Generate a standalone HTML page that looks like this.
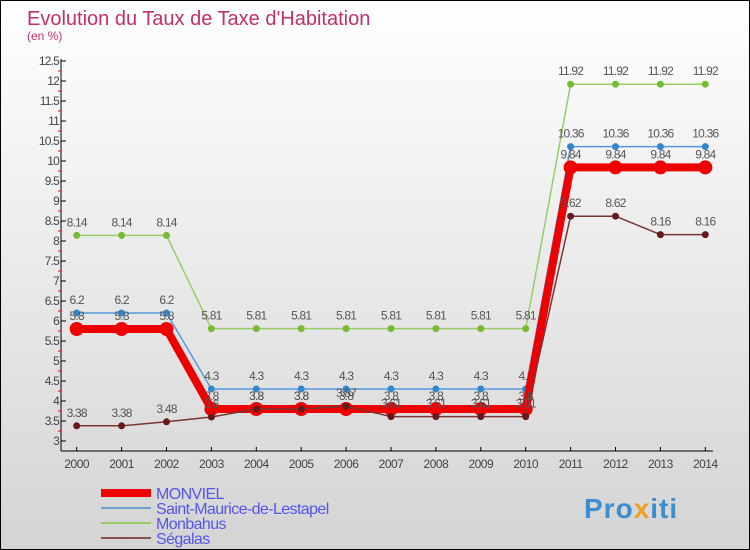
<!DOCTYPE html>
<html><head><meta charset="utf-8"><style>
body{margin:0}
#c{position:relative;width:748px;height:548px;border:1px solid #000;background:linear-gradient(#fff,#d4d4d4);font-family:"Liberation Sans",sans-serif;overflow:hidden}
</style></head><body>
<div id="c">
<svg id="s" width="748" height="548">
<text x="26" y="24" font-size="20" fill="#c0306a">Evolution du Taux de Taxe d'Habitation</text>
<text x="26" y="39" font-size="12" fill="#c0306a">(en %)</text>
<g id="axes"></g><g id="series"></g><g id="legend"></g>
<g>
<text x="583" y="517" font-size="28" font-weight="bold" fill="#3a8fd0" letter-spacing="1">Pro<tspan fill="#f0a020">x</tspan>iti</text>
</g>
</svg>
</div>
<script>
const years=[2000,2001,2002,2003,2004,2005,2006,2007,2008,2009,2010,2011,2012,2013,2014];
const monviel=[5.8,5.8,5.8,3.8,3.8,3.8,3.8,3.8,3.8,3.8,3.8,9.84,9.84,9.84,9.84];
const saintMaurice=[6.2,6.2,6.2,4.3,4.3,4.3,4.3,4.3,4.3,4.3,4.3,10.36,10.36,10.36,10.36];
const monbahus=[8.14,8.14,8.14,5.81,5.81,5.81,5.81,5.81,5.81,5.81,5.81,11.92,11.92,11.92,11.92];
const segalas=[3.38,3.38,3.48,3.6,3.8,3.8,3.87,3.61,3.61,3.61,3.61,8.62,8.62,8.16,8.16];
const yTicks=[3,3.5,4,4.5,5,5.5,6,6.5,7,7.5,8,8.5,9,9.5,10,10.5,11,11.5,12,12.5];
const NS='http://www.w3.org/2000/svg';
const X=i=>75.7+i*44.9;
const Y=v=>440-(v-3)*40;
function mk(tag,at,parent){const e=document.createElementNS(NS,tag);for(const k in at)e.setAttribute(k,at[k]);parent.appendChild(e);return e;}
const ax=document.getElementById('axes');
let l=mk('line',{x1:60,y1:58,x2:60,y2:450,stroke:'#000'},ax);


l=mk('line',{x1:60,y1:450,x2:712,y2:450,stroke:'#000'},ax);


yTicks.forEach(v=>{
  mk('line',{x1:60,y1:Y(v),x2:65,y2:Y(v),stroke:'#000'},ax);
  if(v<12.5)mk('line',{x1:57,y1:Y(v+0.25),x2:60,y2:Y(v+0.25),stroke:'#e00'},ax);
  const t=mk('text',{x:58,y:Y(v)+4,'font-size':12,fill:'#444','text-anchor':'end','letter-spacing':'-0.8'},ax);
  t.textContent=String(v);
  
  
});
years.forEach((y,i)=>{
  mk('line',{x1:X(i),y1:446,x2:X(i),y2:450,stroke:'#000'},ax);
  const t=mk('text',{x:X(i),y:467,'font-size':12,fill:'#444','text-anchor':'middle','letter-spacing':'-0.5'},ax);
  t.textContent=String(y);
  
  
});
const sg=document.getElementById('series');
const defs=[
 {d:monbahus,c:'#99cc66',w:1.5,r:3.5,f:'#77bb33',n:'monbahus'},
 {d:saintMaurice,c:'#5599dd',w:1.5,r:3.5,f:'#3388cc',n:'saint-maurice'},
 {d:monviel,c:'#ee0000',w:8,r:7,f:'#ee0000',n:'monviel'},
 {d:segalas,c:'#7a3535',w:1.5,r:3.5,f:'#661a1a',n:'segalas'}];
defs.forEach(s=>{
  const g=mk('g',{},sg);
  
  
  const p=mk('polyline',{points:s.d.map((v,i)=>X(i)+','+Y(v)).join(' '),fill:'none',stroke:s.c,'stroke-width':s.w,'stroke-linejoin':'round'},g);
  
  
  s.d.forEach((v,i)=>{
    const c=mk('circle',{cx:X(i),cy:Y(v),r:s.r,fill:s.f},g);
    
    
    const t=mk('text',{x:X(i),y:Y(v)-9,'font-size':12,fill:'#555','text-anchor':'middle','letter-spacing':'-0.8'},g);
    t.textContent=String(v);
    
    
  });
});
const lg=document.getElementById('legend');
const leg=[['MONVIEL','#ee0000',8],['Saint-Maurice-de-Lestapel','#6aa0d0',2],['Monbahus','#99cc66',2],['Ségalas','#8a5050',2]];
leg.forEach((e,i)=>{
  const y=492+i*15;
  const g=mk('g',{},lg);
  
  
  mk('line',{x1:100,y1:y,x2:150,y2:y,stroke:e[1],'stroke-width':e[2]},g);
  const t=mk('text',{x:155,y:y+6,'font-size':16,fill:'#5555ee','letter-spacing':'-0.6'},g);
  t.textContent=e[0];
});
</script>
</body></html>
